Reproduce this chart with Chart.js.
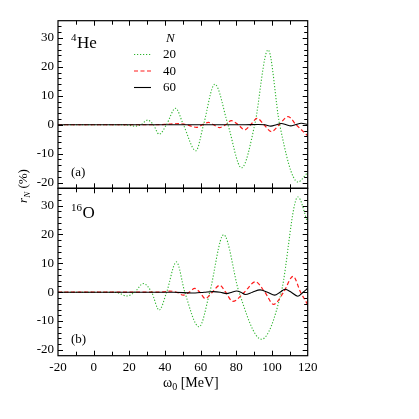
<!DOCTYPE html>
<html><head><meta charset="utf-8">
<script src="https://cdn.jsdelivr.net/npm/chart.js@4.4.0/dist/chart.umd.min.js"></script>
<style>
html,body{margin:0;padding:0;background:#fff;}
#wrap{position:relative;width:419px;height:419px;}
canvas{position:absolute;left:0;top:0;}
</style></head><body>
<div id="wrap"><canvas id="ca" width="419" height="419"></canvas><canvas id="cb" width="419" height="419"></canvas></div>
<script>
// ---- data ----
const xTicks = [-20, 0, 20, 40, 60, 80, 100, 120];
const yTicks = [-20, -10, 0, 10, 20, 30];
const nLabels = ['20', '40', '60'];
const panelLabels = ['(a)', '(b)'];

// 4He, N = 20
const heX20 = [-20, 15, 20, 23, 26.5, 30.2, 33.5, 36.7, 40.8, 45.9, 50.3, 57.3, 61.6, 67.9, 75.3, 82.9, 90.3, 97.8, 104.3, 114.5, 120];
const heY20 = [0, 0, -0.2, -0.5, 0, 1.6, 0, -3.3, 0, 5.7, 0, -9.0, 0, 14.0, 0, -14.9, 0, 25.9, 0, -19.8, -16.5];
// 4He, N = 40
const heX40 = [-20, 35, 42, 48, 52, 57.7, 61, 64.3, 67.3, 70.5, 74, 77.2, 81, 84.7, 88, 91.6, 95.5, 99.6, 104, 109, 113.5, 120];
const heY40 = [0, 0, 0.2, 0.4, 0, -0.9, 0, 0.8, 0, -1.0, 0, 1.4, 0, -1.8, 0, 2.2, 0, -2.4, 0, 2.8, 0, -3.8];
// 4He, N = 60
const heX60 = [-20, 85, 92, 96, 99.3, 102.5, 105.3, 108, 110.5, 113, 116.4, 120];
const heY60 = [0, 0, 0.1, 0, -0.5, 0, 0.4, 0, -0.4, 0, 0.5, 0.1];

// 16O, N = 20
const oX20 = [-20, 10, 14, 18.5, 23, 27.8, 32.5, 36.7, 40.9, 46.4, 51.1, 59.1, 65.1, 72.9, 81.5, 94.1, 105.2, 114.5, 120];
const oY20 = [0, 0, -0.3, -1.3, 0, 3.0, 0, -6.2, 0, 10.5, 0, -12.0, 0, 19.9, 0, -16.3, 0, 33.0, 24];
// 16O, N = 40
const oX40 = [-20, 35, 39, 42.7, 46.5, 50.2, 53.5, 56.7, 59.5, 62.5, 66.5, 70.7, 74, 78, 84.5, 90.7, 96, 100.9, 106.5, 111.8, 116, 120];
const oY40 = [0, 0, 0.1, 0.4, 0, -1.0, 0, 1.3, 0, -2.2, 0, 2.4, 0, -3.2, 0, 3.6, 0, -4.2, 0, 5.5, 0, -4.3];
// 16O, N = 60
const oX60 = [-20, 45, 55, 62, 67, 71, 74.5, 77.5, 80, 82.5, 85, 89, 93.3, 97.5, 101.5, 104.5, 107.3, 110.8, 114.5, 117.5, 120];
const oY60 = [0, 0, -0.3, 0, 0.2, 0, -0.5, 0, 0.4, 0, -0.8, 0, 0.8, 0, -1.0, 0, 1.0, 0, -1.4, 0, 1.4];

const X_MIN = -20, X_MAX = 120, Y_MIN = -22, Y_MAX = 36;

// ---- styles ----
const SERIF = '"Liberation Serif", "Times New Roman", serif';
const styles = [
  { color: '#2db52d', dash: [1.2, 1.8], width: 1.1 },
  { color: '#ff1a1a', dash: [4, 2.5], width: 1.2 },
  { color: '#000000', dash: [], width: 1.1 }
];

function pts(xs, ys) { return xs.map((x, i) => ({ x: x, y: ys[i] })); }
function makeDatasets(series) {
  return series.map((s, i) => ({
    label: 'N=' + nLabels[i],
    data: pts(s[0], s[1]),
    borderColor: styles[i].color,
    borderDash: styles[i].dash,
    borderWidth: styles[i].width,
    pointRadius: 0,
    fill: false,
    cubicInterpolationMode: 'monotone',
    order: 3 - i
  }));
}

function frameTicks(chart) {
  const ctx = chart.ctx, a = chart.chartArea, xs = chart.scales.x, ys = chart.scales.y;
  ctx.save();
  ctx.strokeStyle = '#000';
  ctx.lineWidth = 1;
  ctx.beginPath();
  for (let v = X_MIN + 10; v < X_MAX; v += 10) {
    const px = Math.round(xs.getPixelForValue(v)) + 0.5;
    const len = (v % 20 === 0) ? 5 : 4;
    ctx.moveTo(px, a.top); ctx.lineTo(px, a.top + len);
    ctx.moveTo(px, a.bottom); ctx.lineTo(px, a.bottom - len);
  }
  for (let v = Y_MIN + 2; v < Y_MAX; v += 2) {
    const py = Math.round(ys.getPixelForValue(v)) + 0.5;
    const len = (v % 10 === 0) ? 5 : 3.5;
    ctx.moveTo(a.left, py); ctx.lineTo(a.left + len, py);
    ctx.moveTo(a.right, py); ctx.lineTo(a.right - len, py);
  }
  ctx.stroke();
  ctx.lineWidth = 1.2;
  ctx.strokeRect(a.left, a.top, a.right - a.left, a.bottom - a.top);
  ctx.restore();
}

function nucleus(ctx, x, y, mass, sym) {
  ctx.fillStyle = '#000';
  ctx.textBaseline = 'alphabetic';
  ctx.textAlign = 'left';
  ctx.font = '11px ' + SERIF;
  ctx.fillText(mass, x, y - 7);
  const w = ctx.measureText(mass).width;
  ctx.font = '17px ' + SERIF;
  ctx.fillText(sym, x + w + 0.5, y);
}

function yScaleCfg() {
  return {
    type: 'linear', min: Y_MIN, max: Y_MAX,
    afterBuildTicks: (s) => { s.ticks = yTicks.map(v => ({ value: v })); },
    afterFit: (s) => { s.width = 58; },
    grid: { display: false, drawTicks: false },
    border: { display: false },
    ticks: { color: '#000', padding: 4, font: { family: SERIF, size: 13 } }
  };
}

const layoutRight = 419 - 307.7;

// ---- chart (a) ----
new Chart(document.getElementById('ca'), {
  type: 'line',
  data: { datasets: makeDatasets([[heX20, heY20], [heX40, heY40], [heX60, heY60]]) },
  options: {
    responsive: false, animation: false,
    layout: { padding: { left: 0, right: layoutRight, top: 20.7, bottom: 419 - 188.3 } },
    plugins: { legend: { display: false }, tooltip: { enabled: false } },
    scales: {
      x: { type: 'linear', min: X_MIN, max: X_MAX, display: false },
      y: yScaleCfg()
    }
  },
  plugins: [{
    id: 'decoA',
    afterDatasetsDraw(chart) {
      frameTicks(chart);
      const ctx = chart.ctx, a = chart.chartArea;
      ctx.save();
      nucleus(ctx, a.left + 13, a.top + 27, '4', 'He');
      ctx.font = '13px ' + SERIF;
      ctx.fillStyle = '#000';
      ctx.textBaseline = 'middle';
      ctx.fillText(panelLabels[0], a.left + 13, a.bottom - 16);
      // legend
      ctx.font = 'italic 13px ' + SERIF;
      ctx.fillText('N', 166, 39);
      const rows = [54, 70.5, 87];
      for (let i = 0; i < 3; i++) {
        const ds = chart.data.datasets[i];
        ctx.strokeStyle = ds.borderColor;
        ctx.lineWidth = ds.borderWidth;
        ctx.setLineDash(ds.borderDash);
        ctx.beginPath();
        ctx.moveTo(134, rows[i] + 0.5); ctx.lineTo(151, rows[i] + 0.5);
        ctx.stroke();
        ctx.setLineDash([]);
        ctx.font = '13px ' + SERIF;
        ctx.fillStyle = '#000';
        ctx.fillText(nLabels[i], 163, rows[i] + 1);
      }
      ctx.restore();
    }
  }]
});

// ---- chart (b) ----
new Chart(document.getElementById('cb'), {
  type: 'line',
  data: { datasets: makeDatasets([[oX20, oY20], [oX40, oY40], [oX60, oY60]]) },
  options: {
    responsive: false, animation: false,
    layout: { padding: { left: 0, right: layoutRight, top: 188.3, bottom: 0 } },
    plugins: { legend: { display: false }, tooltip: { enabled: false } },
    scales: {
      x: {
        type: 'linear', min: X_MIN, max: X_MAX,
        afterBuildTicks: (s) => { s.ticks = xTicks.map(v => ({ value: v })); },
        afterFit: (s) => { s.height = 419 - 355.7; },
        grid: { display: false, drawTicks: false },
        border: { display: false },
        ticks: { color: '#000', padding: 4, maxRotation: 0, font: { family: SERIF, size: 13 } }
      },
      y: yScaleCfg()
    }
  },
  plugins: [{
    id: 'decoB',
    afterDatasetsDraw(chart) {
      frameTicks(chart);
      const ctx = chart.ctx, a = chart.chartArea;
      ctx.save();
      nucleus(ctx, a.left + 13, a.top + 30, '16', 'O');
      ctx.font = '13px ' + SERIF;
      ctx.fillStyle = '#000';
      ctx.textBaseline = 'middle';
      ctx.textAlign = 'left';
      ctx.fillText(panelLabels[1], a.left + 13, a.bottom - 16);
      // x title: ω0 [MeV]
      const cx = (a.left + a.right) / 2 + 8, ty = 383;
      ctx.font = '14px ' + SERIF;
      const w1 = ctx.measureText('ω').width;
      ctx.font = '10px ' + SERIF;
      const w2 = ctx.measureText('0').width;
      ctx.font = '14px ' + SERIF;
      const w3 = ctx.measureText(' [MeV]').width;
      let x0 = cx - (w1 + w2 + w3) / 2;
      ctx.fillText('ω', x0, ty);
      ctx.font = '10px ' + SERIF;
      ctx.fillText('0', x0 + w1, ty + 4);
      ctx.font = '14px ' + SERIF;
      ctx.fillText(' [MeV]', x0 + w1 + w2, ty);
      // y title: r_N (%)
      ctx.translate(24, 186);
      ctx.rotate(-Math.PI / 2);
      ctx.font = 'italic 13px ' + SERIF;
      const r1 = ctx.measureText('r').width;
      ctx.font = 'italic 9px ' + SERIF;
      const r2 = ctx.measureText('N').width;
      ctx.font = '13px ' + SERIF;
      const r3 = ctx.measureText(' (%)').width;
      let s0 = -(r1 + r2 + r3) / 2;
      ctx.font = 'italic 13px ' + SERIF;
      ctx.fillText('r', s0, 0);
      ctx.font = 'italic 9px ' + SERIF;
      ctx.fillText('N', s0 + r1, 3.5);
      ctx.font = '13px ' + SERIF;
      ctx.fillText(' (%)', s0 + r1 + r2, 0);
      ctx.restore();
    }
  }]
});
</script>
</body></html>
